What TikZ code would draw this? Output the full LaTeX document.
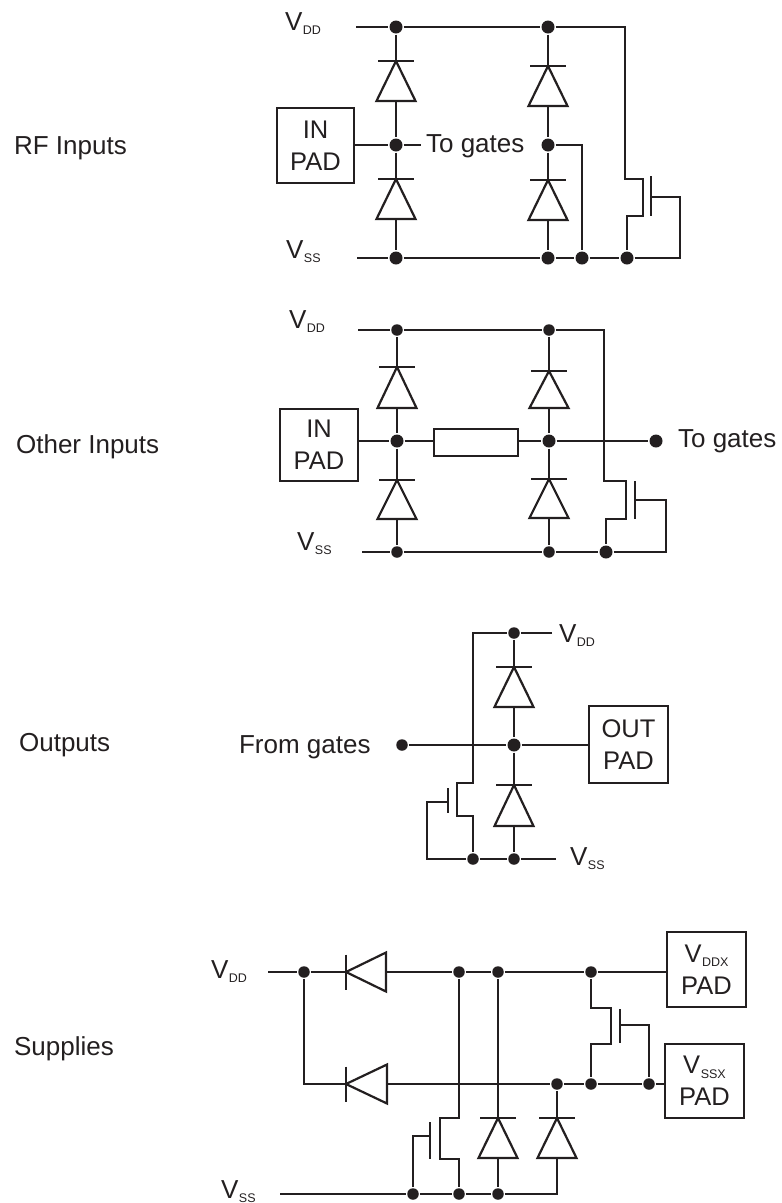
\documentclass[tikz,border=0pt]{standalone}
\usepackage{fontspec}
\setmainfont{Liberation Sans}
\definecolor{ink}{HTML}{231F20}
\newcommand{\railname}[2]{#1\kern0.5pt\lower4.5pt\hbox{\fontsize{12.5}{13}\selectfont #2}}
\newcommand{\diodeup}[4]{
    \coordinate (#1-bar) at (#2,#3);
    \coordinate (#1-base) at (#2,#4);
    \draw (#2-18,#3) -- (#2+18,#3);
    \draw[line join=miter] (#2,#3) -- (#2-19.5,#4) -- (#2+19.5,#4) -- cycle;
}
\newcommand{\diodeleft}[4]{
    \coordinate (#1-bar) at (#2,#4);
    \coordinate (#1-base) at (#3,#4);
    \draw (#2,#4-17.5) -- (#2,#4+17.5);
    \draw[line join=miter] (#2,#4) -- (#3,#4-19.5) -- (#3,#4+19.5) -- cycle;
}
\tikzset{
    wire/.style={draw=ink, line width=2.2pt},
    smalldot/.style={circle, fill=ink, inner sep=0pt, minimum size=11.5pt},
    bigdot/.style={circle, fill=ink, inner sep=0pt, minimum size=13pt},
    padbox/.style={draw=ink, line width=2.2pt, inner sep=0pt, align=center, text=ink,
        font=\fontsize{25.5}{32}\selectfont},
    resbox/.style={draw=ink, line width=2.2pt, inner sep=0pt},
    label/.style={anchor=base west, inner sep=0pt, text=ink, font=\fontsize{26}{31}\selectfont}
}
\begin{document}
\begin{tikzpicture}[x=1pt, y=-1pt, every path/.style={wire}]
    \useasboundingbox[draw=none] (0,0) rectangle (782,1203);

    \node (rf) at (13,154) [label] {RF Inputs};
    \node (other) at (15,453) [label] {Other Inputs};
    \node (outs) at (18,751) [label] {Outputs};
    \node (sup) at (13,1055) [label] {Supplies};

    \node (dd1) at (284,30) [label] {\railname{V}{DD}};
    \node (ss1) at (285,258) [label] {\railname{V}{SS}};
    \node (pad1) at (315.5,145.5) [padbox, minimum width=77pt, minimum height=75pt] {IN\\PAD};
    \node (gates1) at (425,152) [label] {To gates};
    \coordinate (ddend1) at (356,27);
    \coordinate (ssend1) at (357,258);
    \coordinate (padend1) at (421,145);
    \node (a1) at (396,27) [bigdot] {};
    \node (a2) at (548,27) [bigdot] {};
    \node (c1) at (396,145) [bigdot] {};
    \node (c2) at (548,145) [bigdot] {};
    \node (b1) at (396,258) [bigdot] {};
    \node (b2) at (548,258) [bigdot] {};
    \node (b3) at (582,258) [bigdot] {};
    \node (b4) at (627,258) [bigdot] {};
    \diodeup{d1}{396}{61}{101}
    \diodeup{d2}{396}{179}{219}
    \diodeup{d3}{548}{66}{106}
    \diodeup{d4}{548}{180}{220}
    \draw (ddend1) -- (a1) -- (a2) -- (625,27) -- (625,179) -- (643,179) -- (643,216) -- (627,216) -- (b4);
    \draw (ssend1) -- (b1) -- (b2) -- (b3) -- (b4) -- (680,258) -- (680,197) -- (651,197);
    \draw (651,176) -- (651,216);
    \draw (c1 -| pad1.east) -- (c1) -- (padend1);
    \draw (a1) -- (d1-bar);
    \draw (d1-base) -- (c1) -- (d2-bar);
    \draw (d2-base) -- (b1);
    \draw (a2) -- (d3-bar);
    \draw (d3-base) -- (c2) -- (d4-bar);
    \draw (d4-base) -- (b2);
    \draw (c2) -- (582,145) -- (b3);

    \node (dd2) at (288,328) [label] {\railname{V}{DD}};
    \node (ss2) at (296,550) [label] {\railname{V}{SS}};
    \node (pad2) at (319,445) [padbox, minimum width=78pt, minimum height=72pt] {IN\\PAD};
    \node (res) at (476,442.5) [resbox, minimum width=84pt, minimum height=27pt] {};
    \node (gates2) at (677,447) [label] {To gates};
    \coordinate (ddend2) at (358,330);
    \coordinate (ssend2) at (362,552);
    \node (e1) at (397,330) [smalldot] {};
    \node (e2) at (549,330) [smalldot] {};
    \node (g1) at (397,441) [bigdot] {};
    \node (g2) at (549,441) [bigdot] {};
    \node (g3) at (656,441) [bigdot] {};
    \node (f1) at (397,552) [smalldot] {};
    \node (f2) at (549,552) [smalldot] {};
    \node (f3) at (606,552) [bigdot] {};
    \diodeup{d5}{397}{367}{408}
    \diodeup{d6}{397}{480}{519}
    \diodeup{d7}{549}{371}{408}
    \diodeup{d8}{549}{479}{518}
    \draw (ddend2) -- (e1) -- (e2) -- (604,330) -- (604,481) -- (626,481) -- (626,519) -- (606,519) -- (f3);
    \draw (ssend2) -- (f1) -- (f2) -- (f3) -- (666,552) -- (666,500) -- (635,500);
    \draw (635,481) -- (635,519);
    \draw (g1 -| pad2.east) -- (g1) -- (g1 -| res.west);
    \draw (g1 -| res.east) -- (g2) -- (g3);
    \draw (e1) -- (d5-bar);
    \draw (d5-base) -- (g1) -- (d6-bar);
    \draw (d6-base) -- (f1);
    \draw (e2) -- (d7-bar);
    \draw (d7-base) -- (g2) -- (d8-bar);
    \draw (d8-base) -- (f2);

    \node (dd3) at (558,642) [label] {\railname{V}{DD}};
    \node (ss3) at (569,865) [label] {\railname{V}{SS}};
    \node (from) at (238,753) [label] {From gates};
    \node (pad3) at (628.5,744.5) [padbox, minimum width=79pt, minimum height=77pt] {OUT\\PAD};
    \coordinate (ddend3) at (552,633);
    \coordinate (ssend3) at (556,859);
    \node (h1) at (514,633) [smalldot] {};
    \node (j0) at (402,745) [smalldot] {};
    \node (j1) at (514,745) [bigdot] {};
    \node (k1) at (473,859) [smalldot] {};
    \node (k2) at (514,859) [smalldot] {};
    \diodeup{d9}{514}{667}{707}
    \diodeup{d10}{514}{785}{826}
    \draw (ddend3) -- (h1) -- (473,633) -- (473,783) -- (457,783) -- (457,816) -- (473,816) -- (k1);
    \draw (ssend3) -- (k2) -- (k1) -- (427,859) -- (427,802) -- (448,802);
    \draw (448,788) -- (448,813);
    \draw (j0) -- (j1) -- (j1 -| pad3.west);
    \draw (h1) -- (d9-bar);
    \draw (d9-base) -- (j1) -- (d10-bar);
    \draw (d10-base) -- (k2);

    \node (dd4) at (210,978) [label] {\railname{V}{DD}};
    \node (ss4) at (220,1198) [label] {\railname{V}{SS}};
    \node (pad4) at (706.5,969.5) [padbox, minimum width=79pt, minimum height=75pt] {\railname{V}{DDX}\\PAD};
    \node (pad5) at (704.5,1081) [padbox, minimum width=79pt, minimum height=74pt] {\railname{V}{SSX}\\PAD};
    \coordinate (ddend4) at (268,972);
    \coordinate (ssend4) at (280,1194);
    \node (m1) at (304,972) [smalldot] {};
    \node (m2) at (459,972) [smalldot] {};
    \node (m3) at (498,972) [smalldot] {};
    \node (m4) at (591,972) [smalldot] {};
    \node (n1) at (557,1084) [smalldot] {};
    \node (n2) at (591,1084) [smalldot] {};
    \node (n3) at (649,1084) [smalldot] {};
    \node (p1) at (413,1194) [smalldot] {};
    \node (p2) at (459,1194) [smalldot] {};
    \node (p3) at (498,1194) [smalldot] {};
    \diodeleft{d11}{346}{386}{972}
    \diodeleft{d12}{346}{387}{1084}
    \diodeup{d13}{498}{1118}{1158}
    \diodeup{d14}{557}{1118}{1158}
    \draw (ddend4) -- (m1) -- (d11-bar);
    \draw (d11-base) -- (m2) -- (m3) -- (m4) -- (m4 -| pad4.west);
    \draw (m1) -- (304,1084) -- (d12-bar);
    \draw (d12-base) -- (n1) -- (n2) -- (n3) -- (n3 -| pad5.west);
    \draw (m2) -- (459,1118) -- (440,1118) -- (440,1159) -- (459,1159) -- (p2);
    \draw (ssend4) -- (p1) -- (p2) -- (p3) -- (557,1194) -- (d14-base);
    \draw (p1) -- (413,1136) -- (430,1136);
    \draw (430,1122) -- (430,1159);
    \draw (m3) -- (d13-bar);
    \draw (d13-base) -- (p3);
    \draw (n1) -- (d14-bar);
    \draw (m4) -- (591,1008) -- (611,1008) -- (611,1044) -- (591,1044) -- (n2);
    \draw (620,1009) -- (620,1043);
    \draw (620,1025) -- (649,1025) -- (n3);
\end{tikzpicture}
\end{document}
